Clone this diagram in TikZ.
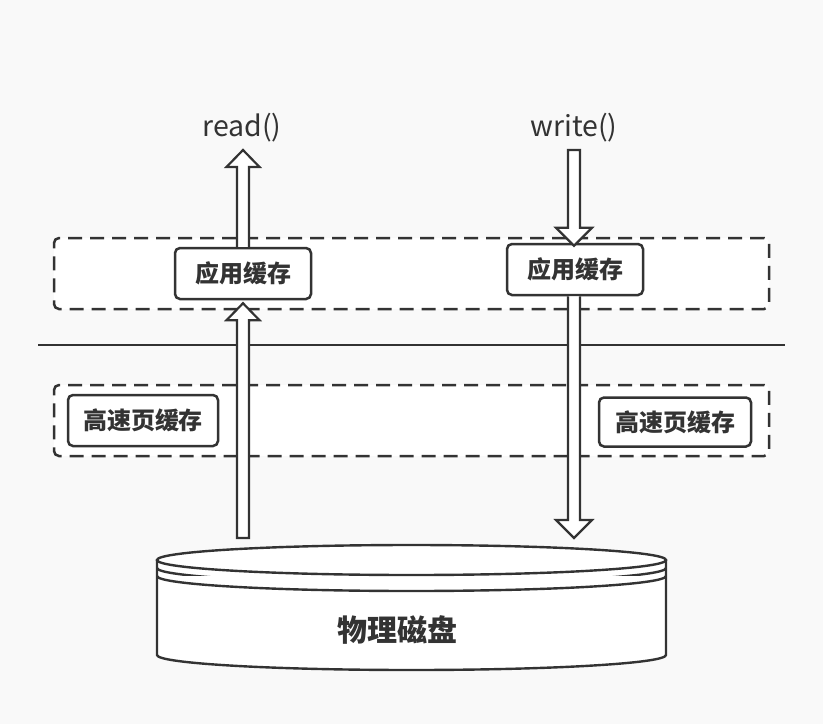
\documentclass[tikz,border=0pt]{standalone}
\usepackage{fontspec}
\setmainfont{Noto Sans CJK SC}
\usetikzlibrary{calc}
\definecolor{ink}{HTML}{333333}
\definecolor{bg}{HTML}{F9F9F9}
\begin{document}
\begin{tikzpicture}[x=1pt,y=-1pt,
  layerbox/.style={draw=ink, line width=2.5pt, dash pattern=on 14pt off 8pt, rounded corners=5pt, fill=white, minimum width=715pt, minimum height=71pt, inner sep=0pt},
  cachebox/.style={draw=ink, line width=2.5pt, rounded corners=5pt, fill=white, minimum height=51pt, inner sep=0pt, font=\fontsize{24}{26}\selectfont\bfseries, text=ink},
  call/.style={font=\fontsize{28.5}{30}\selectfont, text=ink, inner sep=0pt},
  blockarrow/.style={draw=ink, line width=2.2pt, fill=white, line join=miter},
  disk/.style={draw=ink, line width=2.4pt, fill=white}]
\fill[bg] (0,0) rectangle (823,724);
\useasboundingbox (0,0) rectangle (823,724);

% layers
\node[layerbox] (ulayer) at (411.5,273.5) {};
\node[layerbox] (klayer) at (411.5,420.5) {};
\coordinate (sepL) at (38,345);
\coordinate (sepR) at (785,345);
\draw[ink, line width=2pt] (sepL) -- (sepR);

% boxes
\node[cachebox, minimum width=136pt] (app1) at (243,273.5) {应用缓存};
\node[cachebox, minimum width=136pt] (app2) at (575,269.5) {应用缓存};
\node[cachebox, minimum width=150pt] (page1) at (143,420.5) {高速页缓存};
\node[cachebox, minimum width=152pt, minimum height=49pt] (page2) at (675,422) {高速页缓存};

% calls
\node[call] (read) at (242,128) {read()};
\node[call] (write) at (574,128) {write()};

% disk
\fill[white] (157,560) -- (157,655) arc[start angle=180, end angle=360, x radius=254.5pt, y radius=15pt] -- (666,560) -- cycle;
\draw[disk] (157,560) -- (157,655) arc[start angle=180, end angle=360, x radius=254.5pt, y radius=15pt] -- (666,560);
\draw[disk] (157,568) arc[start angle=180, end angle=360, x radius=254.5pt, y radius=15pt];
\draw[disk] (157,576) arc[start angle=180, end angle=360, x radius=254.5pt, y radius=15pt];
\draw[disk] (411.5,560) ellipse [x radius=254.5pt, y radius=15pt];
\node[font=\fontsize{30}{32}\selectfont\bfseries, text=ink, inner sep=0pt] (disklabel) at (397.5,630) {物理磁盘};
\coordinate (diskL) at (243,538);
\coordinate (diskR) at (574,538);
\coordinate (readtip) at (243,150);
\coordinate (writetop) at (574,150);

% arrows: read (upward)
\draw[blockarrow] ($(app1.north)+(-6,0)$) -- ($(readtip)+(-6,17)$) -- ($(readtip)+(-16.5,17)$) -- (readtip) -- ($(readtip)+(16.5,17)$) -- ($(readtip)+(6,17)$) -- ($(app1.north)+(6,0)$);
\coordinate (a1b) at ($(app1.south)+(0,3)$);
\draw[blockarrow] ($(diskL)+(-6,0)$) -- ($(a1b)+(-6,17)$) -- ($(a1b)+(-16.5,17)$) -- (a1b) -- ($(a1b)+(16.5,17)$) -- ($(a1b)+(6,17)$) -- ($(diskL)+(6,0)$) -- cycle;

% arrows: write (downward)
\coordinate (a2t) at ($(app2.north)+(-1,3)$);
\draw[blockarrow] ($(writetop)+(-6,0)$) -- ($(a2t)+(-6,-18)$) -- ($(a2t)+(-18,-18)$) -- (a2t) -- ($(a2t)+(18,-18)$) -- ($(a2t)+(6,-18)$) -- ($(writetop)+(6,0)$) -- cycle;
\coordinate (a2b) at ($(app2.south)+(-1,0)$);
\draw[blockarrow] ($(a2b)+(-6,0)$) -- ($(diskR)+(-6,-18)$) -- ($(diskR)+(-18,-18)$) -- (diskR) -- ($(diskR)+(18,-18)$) -- ($(diskR)+(6,-18)$) -- ($(a2b)+(6,0)$);
\end{tikzpicture}
\end{document}
